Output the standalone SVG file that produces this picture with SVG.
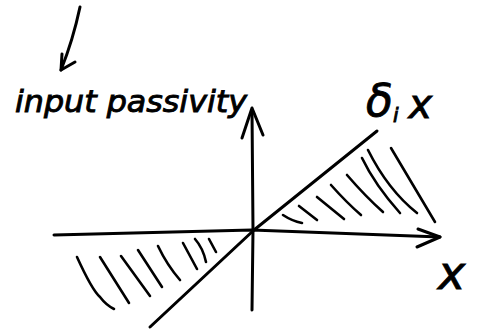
<svg xmlns="http://www.w3.org/2000/svg" width="482" height="331" viewBox="0 0 482 331">
<style>
.ln{fill:none;stroke:#000;stroke-width:3;stroke-linecap:round;stroke-linejoin:round}
.h{fill:none;stroke:#000;stroke-width:2.6;stroke-linecap:round}
.t{font-family:"DejaVu Sans",sans-serif;font-style:italic;fill:#000;stroke:#000;stroke-width:0.9}
</style>
<rect width="482" height="331" fill="#fff"/>
<g id="connectors">
<path class="ln" d="M80,7 Q73,40 61,70"/>
<path class="ln" d="M62,54 L61,70 L75,62"/>
</g>
<g id="x-axis">
<path class="ln" d="M54,235 L252,230 L440,237"/>
<path class="ln" d="M418,229 L440,237 L417,247"/>
</g>
<g id="y-axis">
<path class="ln" d="M252,310 L253,230 L252,110"/>
<path class="ln" d="M242,138 L252,108 L263,135"/>
</g>
<g id="line-delta">
<path class="ln" d="M150,327 L254,230 L377,131"/>
</g>
<g id="hatch-upper">
<path class="h" d="M283,215 Q292,221 302,223"/>
<path class="h" d="M299,206 L317,220"/>
<path class="h" d="M317,197 L344,219"/>
<path class="h" d="M331,185 Q347,203 361,215"/>
<path class="h" d="M347,175 Q366,197 383,212"/>
<path class="h" d="M362,158 Q375,185 400,213"/>
<path class="h" d="M368,150 Q388,190 417,213"/>
<path class="h" d="M391,148 Q413,185 435,222"/>
</g>
<g id="hatch-lower">
<path class="h" d="M77,257 Q92,290 100,297 Q106,305 114,309"/>
<path class="h" d="M100,257 L129,303"/>
<path class="h" d="M121,256 L150,296"/>
<path class="h" d="M138,250 L162,287"/>
<path class="h" d="M158,246 Q167,265 180,280"/>
<path class="h" d="M183,243 L197,269"/>
<path class="h" d="M195,239 Q203,248 206,262"/>
<path class="h" d="M209,239 L216,252"/>
</g>
<g id="label-input-passivity">
<text class="t" x="15" y="112" font-size="30" textLength="232" lengthAdjust="spacingAndGlyphs">input passivity</text>
</g>
<g id="label-delta">
<text class="t" x="366" y="116" font-size="44">δ<tspan font-size="20" dy="6">i</tspan><tspan font-size="40" dy="-4" dx="10">x</tspan></text>
</g>
<g id="label-x">
<text class="t" x="438" y="289" font-size="46">x</text>
</g>
</svg>
